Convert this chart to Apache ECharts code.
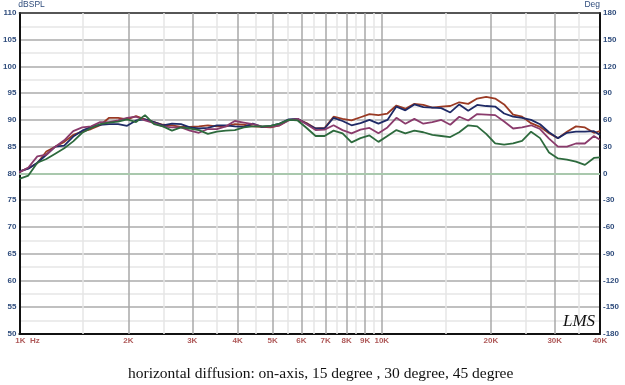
<!DOCTYPE html>
<html><head><meta charset="utf-8">
<script src="https://cdn.jsdelivr.net/npm/echarts@6/dist/echarts.min.js"></script>
<style>html,body{margin:0;padding:0;background:#fff}#c{width:625px;height:385px}</style>
</head><body><div id="c"></div>
<script>
// Frequencies (Hz) at which the curves were read
const freqs = [1000,1059,1121,1187,1256,1330,1408,1491,1578,1671,1769,1873,1983,2099,2222,2353,2491,2637,2792,2956,3129,3313,3507,3713,3931,4162,4406,4665,4938,5228,5535,5860,6204,6568,6953,7361,7793,8251,8735,9247,9790,10365,10973,11617,12299,13021,13785,14594,15451,16357,17317,18333,19409,20549,21755,23032,24383,25814,27329,28933,30631,32429,34333,36348,38481,40000];
// dBSPL values
const onAxis = [80.3,81.0,81.9,84.1,85.0,85.9,87.2,87.8,88.3,89.0,90.4,90.4,90.1,90.7,90.1,89.6,89.1,89.0,88.7,88.7,88.8,89.0,88.8,88.8,89.2,89.1,88.8,88.7,88.6,89.0,90.0,90.1,89.4,88.4,88.5,90.6,90.2,89.9,90.5,91.1,90.9,91.2,92.7,92.1,93.0,92.8,92.3,92.5,92.6,93.3,93.0,94.0,94.3,94.0,92.9,91.0,90.6,89.4,88.7,87.5,86.6,87.8,88.8,88.6,87.6,87.9];
const deg15 = [80.4,80.9,82.0,83.5,85.0,85.2,86.9,88.0,88.7,89.1,89.2,89.2,88.9,89.9,90.1,89.6,89.0,89.3,89.2,88.6,88.4,88.5,89.0,89.0,88.8,88.7,89.3,88.7,88.9,89.3,90.1,90.2,89.3,88.4,88.4,90.4,89.8,89.0,89.4,90.0,89.3,90.0,92.5,91.8,92.9,92.4,92.3,92.2,91.4,92.9,91.7,92.8,92.6,92.5,91.2,90.6,90.4,90.0,89.2,87.7,86.6,87.6,87.8,87.8,87.9,87.2];
const deg30 = [80.2,81.1,83.2,83.5,85.0,86.2,87.9,88.6,88.8,89.6,89.6,89.9,90.4,90.6,89.9,89.4,88.8,88.6,88.6,88.0,87.6,88.3,88.3,88.8,89.8,89.5,89.2,88.8,88.7,89.0,89.9,90.2,89.2,88.1,88.2,89.0,88.1,87.5,88.2,88.5,87.5,88.6,90.4,89.3,90.2,89.3,89.6,90.0,89.1,90.6,89.9,91.1,91.0,90.9,89.7,88.4,88.6,89.0,88.3,86.5,85.0,85.0,85.6,85.6,87.0,86.3];
const deg45 = [79.0,79.6,82.0,82.7,83.7,84.7,86.0,87.6,88.5,89.2,89.5,89.7,90.1,89.6,90.9,89.2,88.8,88.0,88.6,88.4,88.1,87.4,87.8,88.0,88.1,88.6,88.8,88.8,88.9,89.3,90.0,89.9,88.5,87.0,87.0,88.0,87.5,85.8,86.6,87.1,85.9,87.0,88.1,87.5,88.0,87.7,87.2,87.0,86.8,87.7,89.0,88.8,87.4,85.6,85.4,85.6,86.1,87.8,86.6,83.9,82.8,82.6,82.2,81.6,82.9,83.0];
// Axis ticks
const xTickValues = [1000,2000,3000,4000,5000,6000,7000,8000,9000,10000,20000,30000,40000];
const xTickLabels = ['1K  Hz','2K','3K','4K','5K','6K','7K','8K','9K','10K','20K','30K','40K'];
const xMajorGrid = [2000,3000,4000,5000,6000,7000,8000,9000,10000,20000,30000];
const xMinorGrid = [1500,2500,3500,4500,5500,6500,7500,8500,9500,15000,25000,35000];
const seriesNames = ['on-axis','15 degree','30 degree','45 degree'];
const seriesColors = ['#9a3a24','#1f2a66','#8a3b6c','#2d6a3d'];
const caption = 'horizontal diffusion: on-axis, 15 degree , 30 degree, 45 degree';

const chart = echarts.init(document.getElementById('c'), null, {renderer:'canvas'});
const lab = {fontFamily:'Liberation Sans', fontSize:8, fontWeight:'bold'};
const curves = [onAxis, deg15, deg30, deg45].map((arr, i) => ({
  name: seriesNames[i], type:'line', xAxisIndex:0, yAxisIndex:0, z:10,
  showSymbol:false, symbol:'none', animation:false,
  lineStyle:{color:seriesColors[i], width:1.8},
  data: freqs.map((f, j) => [f, arr[j]])
}));
const gridMarks = [];
xMinorGrid.forEach(f => gridMarks.push({xAxis:f, lineStyle:{color:'#e6e6e6', width:1.5, type:'solid'}}));
xMajorGrid.forEach(f => gridMarks.push({xAxis:f, lineStyle:{color:'#a9a9a9', width:1.5, type:'solid'}}));
gridMarks.push({yAxis:80, lineStyle:{color:'#a9c8ad', width:2, type:'solid'}});

chart.setOption({
  animation:false,
  backgroundColor:'#fff',
  title:{text:caption, left:123, top:361,
    textStyle:{fontFamily:'Liberation Serif', fontSize:15.5, fontWeight:'normal', color:'#111'}},
  grid:{left:18, right:25, top:10, bottom:51, containLabel:false},
  xAxis:[
    {type:'log', logBase:10, min:1000, max:40000, position:'bottom',
     axisLine:{show:true, onZero:false, lineStyle:{color:'#111', width:2}},
     axisTick:{show:false}, axisLabel:{show:false}, splitLine:{show:false}},
    {type:'log', logBase:10, min:1000, max:40000, position:'top',
     axisLine:{show:true, onZero:false, lineStyle:{color:'#333', width:1.5}},
     axisTick:{show:false}, axisLabel:{show:false}, splitLine:{show:false}}
  ],
  yAxis:[
    {type:'value', min:50, max:110, interval:5, position:'left',
     name:'dBSPL', nameLocation:'end', nameGap:2,
     nameTextStyle:Object.assign({color:'#2f4c7c', align:'left', padding:[0,0,0,-1]}, lab, {fontWeight:'normal', fontSize:8.5}),
     axisLine:{show:true, lineStyle:{color:'#111', width:2}},
     axisTick:{show:false},
     axisLabel:Object.assign({color:'#2f4c7c', margin:3}, lab),
     splitLine:{show:true, lineStyle:{color:'#ababab', width:1.5}},
     minorTick:{show:false, splitNumber:2},
     minorSplitLine:{show:true, lineStyle:{color:'#e6e6e6', width:1.5}}},
    {type:'value', min:-180, max:180, interval:30, position:'right',
     name:'Deg', nameLocation:'end', nameGap:2,
     nameTextStyle:Object.assign({color:'#2f4c7c', align:'right'}, lab, {fontWeight:'normal', fontSize:8.5}),
     axisLine:{show:true, lineStyle:{color:'#111', width:2}},
     axisTick:{show:false},
     axisLabel:Object.assign({color:'#2f4c7c', margin:3}, lab),
     splitLine:{show:false}}
  ],
  series:[
    {type:'line', name:'grid', data:[], z:1, silent:true,
     markLine:{silent:true, symbol:['none','none'], z:1, animation:false, label:{show:false}, data:gridMarks}},
    ...curves,
    {type:'scatter', name:'xlabels', clip:false, symbolSize:0, silent:true, z:11,
     data: xTickValues.map((v, i) => ({value:[v, 50],
       label: i === 0 ? {formatter:xTickLabels[i], align:'left', offset:[-4,0]} : {formatter:xTickLabels[i]}})),
     label:Object.assign({show:true, position:'bottom', distance:3, color:'#9a2e2e'}, lab)}
  ],
  graphic:[
    {type:'text', left:563, top:313, z:20,
     style:{text:'LMS', font:'italic 17px "Liberation Serif"', fill:'#111'}}
  ]
});
</script>
</body></html>
